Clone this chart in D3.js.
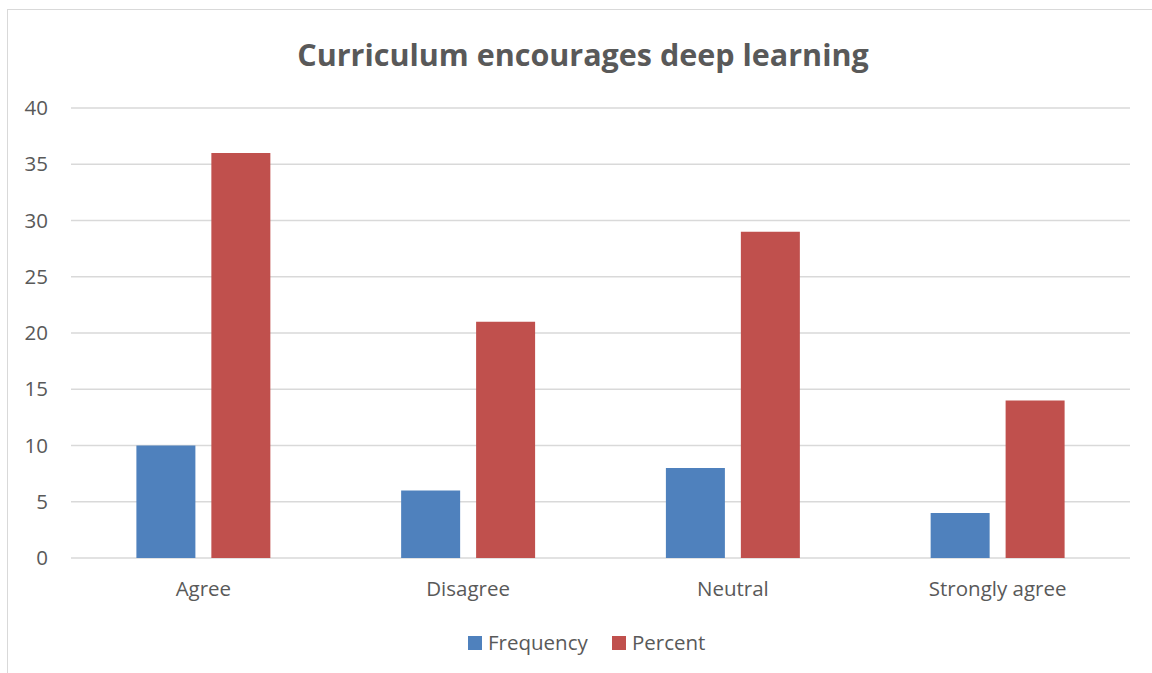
<!DOCTYPE html>
<html lang="en">
<head>
<meta charset="UTF-8">
<title>Curriculum encourages deep learning</title>
<script src="https://d3js.org/d3.v7.min.js"></script>
<style>
  body { margin: 0; background: #fff; }
  text { font-family: "Open Sans", "Liberation Sans", sans-serif; fill: #595959; }
</style>
</head>
<body>
<script>
  // data
  const categories = ['Agree', 'Disagree', 'Neutral', 'Strongly agree'];
  const seriesNames = ['Frequency', 'Percent'];
  const frequency = [10, 6, 8, 4];
  const percent = [36, 21, 29, 14];
  const yTicks = [0, 5, 10, 15, 20, 25, 30, 35, 40];
  const colors = ['#4F81BD', '#C0504D'];

  const width = 1152, height = 673;
  const plotLeft = 71, plotRight = 1130, plotTop = 108, plotBottom = 558;

  const svg = d3.select('body').append('svg')
    .attr('width', width).attr('height', height);

  // outer chart border
  svg.append('rect')
    .attr('x', 7.5).attr('y', 9.5)
    .attr('width', width + 10).attr('height', height + 10)
    .attr('fill', 'none').attr('stroke', '#d9d9d9').attr('stroke-width', 1);

  const y = d3.scaleLinear().domain([0, 40]).range([plotBottom, plotTop]);
  const x0 = d3.scaleBand().domain(categories).range([plotLeft, plotRight])
    .paddingInner(0.494).paddingOuter(0.247);
  const x1 = d3.scaleBand().domain(seriesNames).range([0, x0.bandwidth()])
    .paddingInner(0.213);

  // gridlines
  svg.append('g').selectAll('line').data(yTicks).join('line')
    .attr('x1', plotLeft).attr('x2', plotRight)
    .attr('y1', d => y(d)).attr('y2', d => y(d))
    .attr('stroke', '#d9d9d9').attr('stroke-width', 1.3);

  // y axis labels
  const yAxis = svg.append('g').attr('transform', `translate(${plotLeft},0)`)
    .call(d3.axisLeft(y).tickValues(yTicks).tickSize(0).tickPadding(23));
  yAxis.select('.domain').remove();
  yAxis.selectAll('text').style('font-size', '20.5px').attr('fill', '#595959');

  // bars
  const values = [frequency, percent];
  const groups = svg.append('g').selectAll('g').data(seriesNames).join('g')
    .attr('fill', (d, i) => colors[i]);
  groups.selectAll('rect')
    .data((s, si) => categories.map((c, ci) => ({ c, s, v: values[si][ci] })))
    .join('rect')
    .attr('x', d => x0(d.c) + x1(d.s))
    .attr('width', x1.bandwidth())
    .attr('y', d => y(d.v))
    .attr('height', d => y(0) - y(d.v));

  // x axis labels
  const xAxis = svg.append('g').attr('transform', `translate(0,${plotBottom})`)
    .call(d3.axisBottom(x0).tickSize(0).tickPadding(23));
  xAxis.select('.domain').remove();
  xAxis.selectAll('text').style('font-size', '20.5px').attr('fill', '#595959');

  // title
  svg.append('text')
    .attr('x', 583).attr('y', 66)
    .attr('text-anchor', 'middle')
    .style('font-size', '30.5px').style('font-weight', 'bold')
    .text('Curriculum encourages deep learning');

  // legend
  const legendX = [468, 612];
  const legend = svg.append('g').selectAll('g').data(seriesNames).join('g')
    .attr('transform', (d, i) => `translate(${legendX[i]},636)`);
  legend.append('rect').attr('width', 14).attr('height', 14)
    .attr('fill', (d, i) => colors[i]);
  legend.append('text').attr('x', 20).attr('y', 14)
    .style('font-size', '20.5px').text(d => d);
</script>
</body>
</html>
